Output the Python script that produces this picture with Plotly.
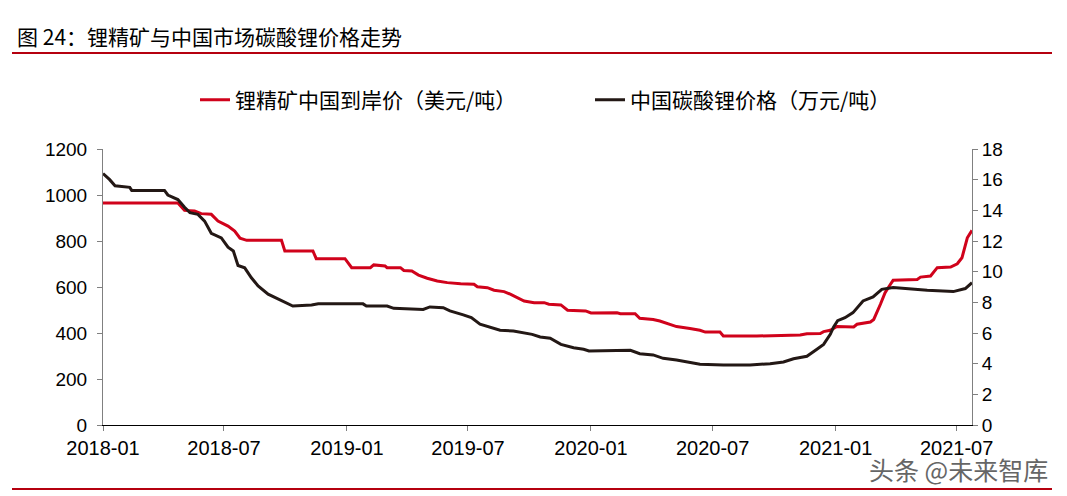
import plotly.graph_objects as go

# 锂精矿中国到岸价（美元/吨）- left axis
red_dates = ["2018-01-01", "2018-04-23", "2018-05-03", "2018-05-18", "2018-05-28", "2018-06-12",
             "2018-06-22", "2018-07-07", "2018-07-17", "2018-07-25", "2018-08-04", "2018-09-25",
             "2018-09-30", "2018-11-11", "2018-11-16", "2018-12-29", "2019-01-08", "2019-02-05",
             "2019-02-10", "2019-02-27", "2019-03-02", "2019-03-22", "2019-03-27", "2019-04-08",
             "2019-04-18", "2019-05-01", "2019-05-16", "2019-05-31", "2019-06-20", "2019-07-10",
             "2019-07-15", "2019-07-30", "2019-08-09", "2019-08-24", "2019-09-03", "2019-09-13",
             "2019-09-23", "2019-10-08", "2019-10-23", "2019-10-30", "2019-11-17", "2019-11-27",
             "2019-12-24", "2020-01-01", "2020-02-09", "2020-02-14", "2020-03-07", "2020-03-14",
             "2020-04-03", "2020-04-13", "2020-04-28", "2020-05-08", "2020-05-28", "2020-06-12",
             "2020-06-20", "2020-07-12", "2020-07-17", "2020-09-05", "2020-11-09", "2020-11-19",
             "2020-12-09", "2020-12-14", "2020-12-24", "2021-01-03", "2021-01-28", "2021-02-02",
             "2021-02-22", "2021-02-27", "2021-03-09", "2021-03-16", "2021-03-24", "2021-03-28",
             "2021-05-03", "2021-05-08", "2021-05-23", "2021-06-02", "2021-06-22", "2021-07-02",
             "2021-07-09", "2021-07-17", "2021-07-24"]
red_vals = [965, 965, 933, 930, 919, 916, 887, 865, 843, 812, 803, 803, 757, 757, 723, 723,
            684, 684, 696, 691, 684, 684, 672, 670, 652, 638, 626, 619, 614, 612, 601, 597,
            586, 580, 568, 554, 539, 532, 532, 525, 522, 499, 496, 487, 488, 484, 484, 464,
            459, 452, 438, 428, 420, 412, 404, 404, 387, 387, 391, 397, 398, 406, 412, 428,
            426, 438, 448, 459, 525, 575, 612, 629, 633, 643, 648, 684, 687, 701, 727, 814, 846]

# 中国碳酸锂价格（万元/吨）- right axis
black_dates = ["2018-01-01", "2018-01-11", "2018-01-19", "2018-02-10", "2018-02-13", "2018-04-03",
               "2018-04-08", "2018-04-23", "2018-05-03", "2018-05-11", "2018-05-23", "2018-06-02",
               "2018-06-12", "2018-06-27", "2018-07-07", "2018-07-15", "2018-07-22", "2018-08-01",
               "2018-08-11", "2018-08-21", "2018-09-05", "2018-09-18", "2018-09-30", "2018-10-12",
               "2018-11-09", "2018-11-19", "2019-01-25", "2019-01-30", "2019-03-02", "2019-03-12",
               "2019-04-25", "2019-05-05", "2019-05-25", "2019-06-04", "2019-06-24", "2019-07-06",
               "2019-07-19", "2019-08-03", "2019-08-18", "2019-09-07", "2019-09-23", "2019-10-05",
               "2019-10-17", "2019-11-01", "2019-11-17", "2019-12-06", "2019-12-21", "2019-12-29",
               "2020-02-29", "2020-03-14", "2020-04-03", "2020-04-18", "2020-05-08", "2020-05-28",
               "2020-06-12", "2020-07-17", "2020-08-26", "2020-09-25", "2020-10-15", "2020-10-30",
               "2020-11-19", "2020-12-04", "2020-12-14", "2020-12-24", "2020-12-29", "2021-01-04",
               "2021-01-15", "2021-01-27", "2021-02-11", "2021-02-26", "2021-03-11", "2021-03-28",
               "2021-05-18", "2021-06-26", "2021-07-14", "2021-07-24"]
black_vals = [16.4, 16.0, 15.6, 15.5, 15.3, 15.3, 15.0, 14.7, 14.2, 13.85, 13.74, 13.3,
              12.5, 12.2, 11.6, 11.35, 10.4, 10.25, 9.6, 9.07, 8.53, 8.26, 7.98, 7.76,
              7.83, 7.91, 7.9, 7.76, 7.76, 7.61, 7.54, 7.70, 7.65, 7.44, 7.18, 7.0,
              6.57, 6.35, 6.18, 6.13, 6.02, 5.91, 5.74, 5.66, 5.26, 5.04, 4.94, 4.83,
              4.87, 4.65, 4.57, 4.35, 4.24, 4.06, 3.96, 3.91, 3.91, 4.0, 4.11, 4.32,
              4.48, 4.94, 5.26, 5.91, 6.4, 6.8, 7.0, 7.33, 8.09, 8.35, 8.85, 8.96,
              8.78, 8.7, 8.9, 9.28]

tick_dates = ["2018-01-01", "2018-07-01", "2019-01-01", "2019-07-01",
              "2020-01-01", "2020-07-01", "2021-01-01", "2021-07-01"]
tick_labels = ["2018-01", "2018-07", "2019-01", "2019-07",
               "2020-01", "2020-07", "2021-01", "2021-07"]

FONT = "Liberation Sans, Arial, Noto Sans CJK SC"
RED = "#D0021B"
BLACK = "#231815"

fig = go.Figure()

fig.add_trace(go.Scatter(
    x=red_dates, y=red_vals,
    mode="lines",
    line=dict(color=RED, width=3),
    name="锂精矿中国到岸价（美元/吨）",
))

fig.add_trace(go.Scatter(
    x=black_dates, y=black_vals,
    mode="lines",
    line=dict(color=BLACK, width=3),
    name="中国碳酸锂价格（万元/吨）",
    yaxis="y2",
))

axis_common = dict(
    showline=True, linecolor="#808080", linewidth=1,
    ticks="outside", ticklen=5, tickcolor="#808080",
    showgrid=False, zeroline=False,
)

fig.update_layout(
    width=1067, height=496, autosize=False,
    margin=dict(l=103, r=95, t=149, b=71),
    paper_bgcolor="white", plot_bgcolor="white",
    font=dict(family=FONT, color="black"),
    title=dict(
        text="图 24：锂精矿与中国市场碳酸锂价格走势",
        font=dict(size=21, family="Noto Sans CJK SC", color="black"),
        x=0.016, xanchor="left", xref="container",
        y=1 - 38 / 496, yanchor="middle", yref="container",
    ),
    xaxis=dict(
        **axis_common,
        type="date",
        range=["2018-01-01", "2021-07-24"],
        tickvals=tick_dates, ticktext=tick_labels,
        tickfont=dict(size=20, family=FONT),
    ),
    yaxis=dict(
        **axis_common,
        range=[0, 1200], dtick=200,
        tickfont=dict(size=19, family=FONT),
        ticklabelstandoff=6,
    ),
    yaxis2=dict(
        **axis_common,
        overlaying="y", side="right",
        range=[0, 18], dtick=2,
        tickfont=dict(size=19, family=FONT),
    ),
    legend=dict(
        orientation="h",
        x=(195 - 103) / 869, xanchor="left",
        y=(425 - 100) / 276, yanchor="middle",
        font=dict(size=21, family="Noto Sans CJK SC"),
        entrywidth=350, entrywidthmode="pixels",
        bgcolor="rgba(0,0,0,0)",
    ),
    showlegend=True,
)

# black bottom axis line
fig.update_xaxes(linecolor="black")

# red rules under the title and at the bottom
for ypix in (53, 489):
    fig.add_shape(
        type="line", xref="paper", yref="paper",
        x0=(12 - 103) / 869, x1=(1052 - 103) / 869,
        y0=(425 - ypix) / 276, y1=(425 - ypix) / 276,
        line=dict(color="#B5000F", width=2),
    )

# watermark
fig.add_annotation(
    text="头条 @未来智库", xref="paper", yref="paper",
    x=(1050 - 103) / 869, y=(425 - 469) / 276,
    xanchor="right", yanchor="middle", showarrow=False,
    font=dict(size=25, family="Noto Sans CJK SC", color="#666666"),
)

# drop the default page margin so the figure sits at the window's corner
fig.write_html("out.html", config={"displayModeBar": False},
               post_script="document.body.style.margin='0';")
